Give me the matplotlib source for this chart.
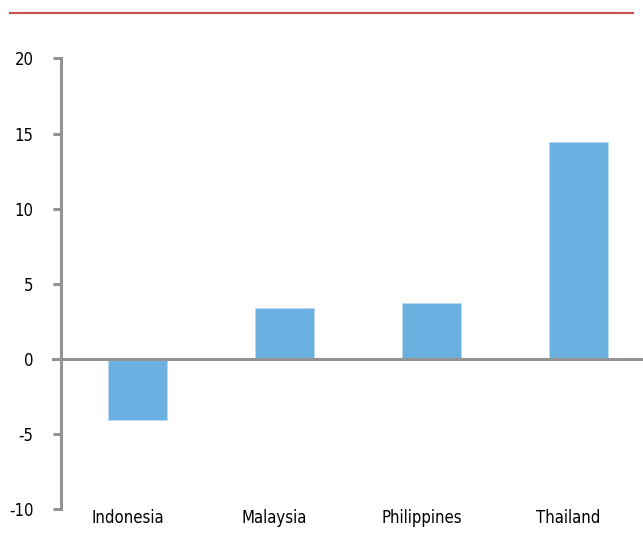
import matplotlib.pyplot as plt
from matplotlib.lines import Line2D

countries = ["Indonesia", "Malaysia", "Philippines", "Thailand"]
values = [-4.1, 3.4, 3.72, 14.42]
yticks = [-10, -5, 0, 5, 10, 15, 20]

grey = "#939393"
blue = "#6AB0E0"
red = "#C9545A"

plt.rcParams['font.family'] = ['DejaVu Sans']
plt.rcParams['font.stretch'] = 'condensed'

W, H = 643, 536
fig = plt.figure(figsize=(W / 100, H / 100), dpi=100)
# axes box: left spine at x=61, y from 58.5 (20) to 509 (-10)
ax = fig.add_axes([61 / W, (H - 509) / H, (643 - 61) / W, (509 - 58.5) / H])

x = list(range(len(countries)))
ax.bar(x, values, width=0.4, color=blue, edgecolor="#B9DAF2", linewidth=0.6, zorder=2)
ax.axhline(0, color=grey, linewidth=2.2, zorder=3)
ax.axhline(0, xmin=-8 / 582, xmax=0, color=grey, linewidth=2.2, clip_on=False)

ax.set_xlim(-0.52, 3.44)
ax.set_ylim(-10, 20)
ax.set_yticks(yticks)
ax.set_yticklabels([str(v) for v in yticks], fontsize=12, fontstretch='condensed')
# category labels sit a little left of the bar centres in the original
ax.set_xticks([i - 0.068 for i in x])
ax.set_xticklabels(countries, fontsize=12, fontstretch='condensed')

for s in ["top", "right", "bottom"]:
    ax.spines[s].set_visible(False)
ax.spines["left"].set_color(grey)
ax.spines["left"].set_linewidth(2.2)
ax.tick_params(axis="y", length=5.8, width=2.2, color=grey, pad=14)
ax.tick_params(axis="x", length=0, pad=0)

fig.add_artist(Line2D([10 / W, 633 / W], [1 - 12.5 / H, 1 - 12.5 / H],
                      color=red, linewidth=1.6))

fig.savefig("out.png", dpi=100)
